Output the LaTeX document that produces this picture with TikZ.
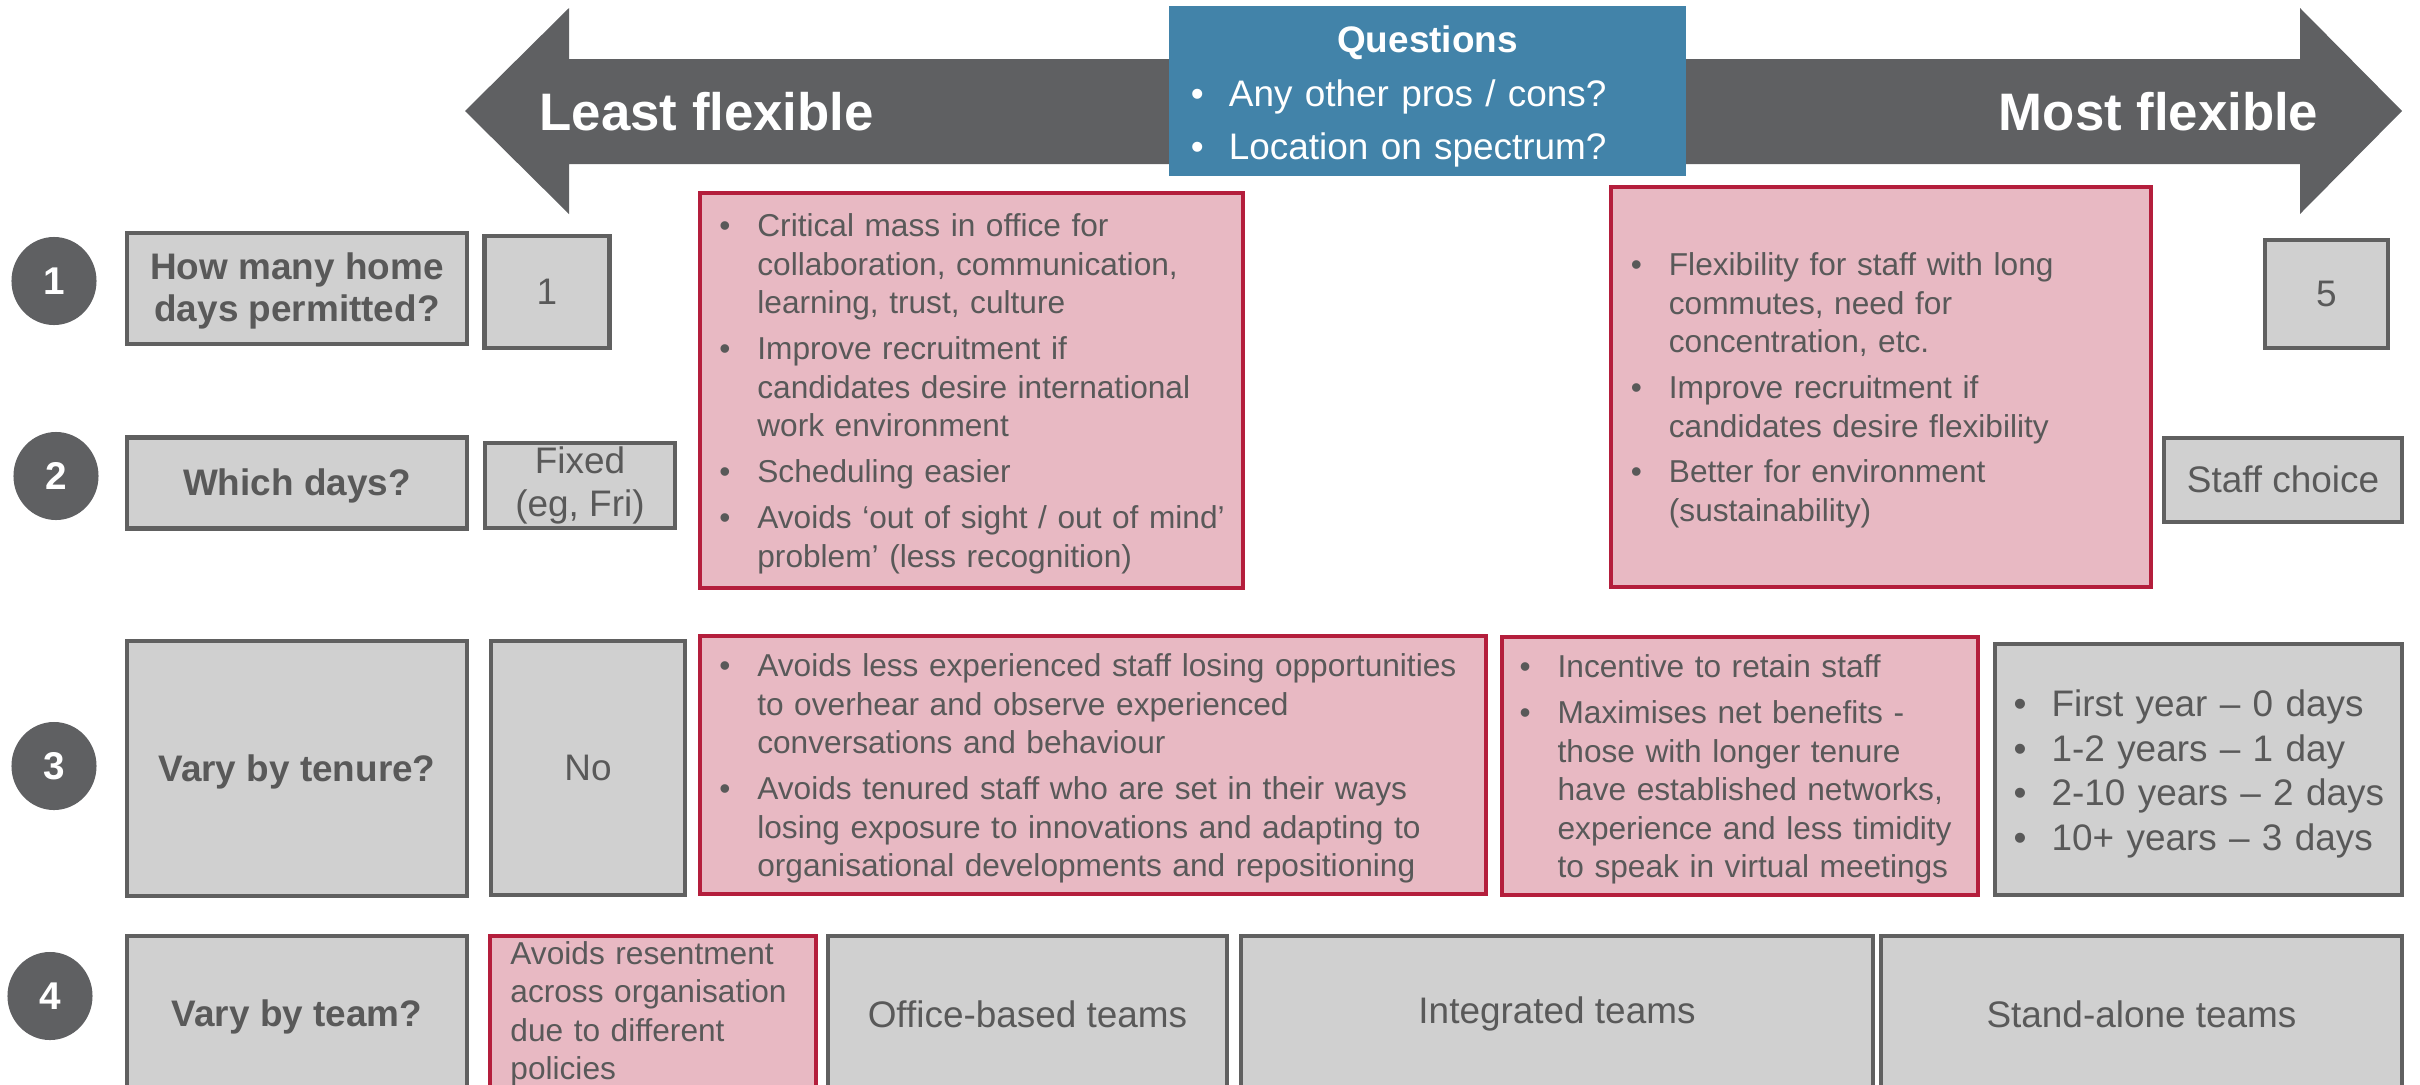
\documentclass[tikz,border=0pt]{standalone}
\usepackage{fontspec}
\setmainfont{Liberation Sans}
\usepackage{enumitem}
\usetikzlibrary{shapes.geometric}

\definecolor{arrowgray}{HTML}{5F6062}
\definecolor{boxgray}{HTML}{D0D0D0}
\definecolor{edgegray}{HTML}{606060}
\definecolor{textgray}{HTML}{595959}
\definecolor{pinkfill}{HTML}{E8B9C3}
\definecolor{pinkedge}{HTML}{B41E3C}
\definecolor{qblue}{HTML}{4283A9}

\setlist[itemize]{label=\textbullet, leftmargin=0.38cm, rightmargin=-0.6cm, labelindent=0pt, labelwidth=0.38cm,
  labelsep=0pt, align=left, topsep=0pt, partopsep=0pt, parsep=0pt, itemsep=2.1pt, after=\vspace{2.5pt}}

\tikzset{
  graybox/.style={draw=edgegray, fill=boxgray, line width=1.2pt, inner sep=0pt, text=textgray,
    font=\fontsize{10.5}{12.2}\selectfont, align=center},
  askbox/.style={graybox, font=\fontsize{10.5}{12.2}\selectfont\bfseries},
  oneline/.style={text height=9.5pt, text depth=2.2pt},
  pinkbox/.style={draw=pinkedge, fill=pinkfill, line width=1.1pt, inner sep=0pt, text=textgray,
    font=\fontsize{9}{10.95}\selectfont, align=left},
  numdot/.style={ellipse, fill=arrowgray, minimum width=0.85cm, minimum height=0.88cm, inner sep=0pt,
    text=white, font=\fontsize{11}{13}\selectfont\bfseries},
  bigword/.style={text=white, font=\fontsize{15}{18}\selectfont\bfseries, inner sep=0pt}
}

\begin{document}
\begin{tikzpicture}[x=0.01cm, y=-0.01cm]
        \useasboundingbox (0,0) rectangle (2420,1084);
        \clip (0,0) rectangle (2420,1084);

        % spectrum arrow
        \fill[arrowgray] (465,111) -- (569,8) -- (569,59) -- (2300,59) -- (2300,8) -- (2402,111)
            -- (2300,214) -- (2300,164) -- (569,164) -- (569,214) -- cycle;
        \node[bigword, anchor=west] (least) at (539,112) {Least flexible};
        \node[bigword, anchor=east] (most) at (2319,112) {Most flexible};
        \node[fill=qblue, minimum width=5.17cm, minimum height=1.70cm, inner sep=0pt, text width=4.73cm,
            text=white, font=\fontsize{10.5}{15}\selectfont] (questions) at (1427.5,91)
            {\centering\rule{0pt}{10.6pt}\textbf{Questions}\par\raggedright
             \begin{itemize}[itemsep=0pt, topsep=0.5pt, after={}]
             \item Any other pros / cons?
             \item Location on spectrum?
             \end{itemize}};

        % row numbers
        \node[numdot] (num1) at (54,281) {1};
        \node[numdot] (num2) at (56,476) {2};
        \node[numdot] (num3) at (54,766) {3};
        \node[numdot] (num4) at (50,996) {4};

        % questions
        \node[askbox, minimum width=3.40cm, minimum height=1.11cm] (howmany) at (297,288.5) {\rule{0pt}{9pt}How many home\\days permitted?};
        \node[askbox, oneline, minimum width=3.40cm, minimum height=0.91cm] (whichdays) at (297,483) {Which days?};
        \node[askbox, oneline, minimum width=3.40cm, minimum height=2.55cm] (tenure) at (297,768.5) {Vary by tenure?};
        \node[askbox, oneline, minimum width=3.40cm, minimum height=1.56cm] (team) at (297,1014) {Vary by team?};

        % least flexible end
        \node[graybox, minimum width=1.25cm, minimum height=1.12cm] (one) at (547,292) {1};
        \node[graybox, minimum width=1.90cm, minimum height=0.85cm] (fixed) at (580,485.5) {Fixed\\(eg, Fri)};
        \node[graybox, oneline, minimum width=1.94cm, minimum height=2.54cm] (no) at (588,768) {No};
        \node[pinkbox, minimum width=3.25cm, minimum height=1.56cm, text width=2.85cm] (resent) at (653,1014)
            {Avoids resentment\\across organisation\\due to different\\policies};

        % pros and cons
        \node[pinkbox, minimum width=5.42cm, minimum height=3.95cm, text width=5.04cm] (prosleft) at (971.5,390.5)
            {\begin{itemize}
             \item Critical mass in office for\\collaboration, communication,\\learning, trust, culture
             \item Improve recruitment if\\candidates desire international\\work environment
             \item Scheduling easier
             \item Avoids ‘out of sight / out of mind’\\problem’ (less recognition)
             \end{itemize}};
        \node[pinkbox, minimum width=5.40cm, minimum height=3.99cm, text width=5.00cm] (prosright) at (1881,387)
            {\begin{itemize}
             \item Flexibility for staff with long\\commutes, need for\\concentration, etc.
             \item Improve recruitment if\\candidates desire flexibility
             \item Better for environment\\(sustainability)
             \end{itemize}};
        \node[pinkbox, minimum width=7.85cm, minimum height=2.58cm, text width=7.47cm] (tenureno) at (1093,765)
            {\begin{itemize}
             \item Avoids less experienced staff losing opportunities\\to overhear and observe experienced\\conversations and behaviour
             \item Avoids tenured staff who are set in their ways\\losing exposure to innovations and adapting to\\organisational developments and repositioning
             \end{itemize}};
        \node[pinkbox, minimum width=4.76cm, minimum height=2.58cm, text width=4.40cm] (tenureyes) at (1739.7,766)
            {\begin{itemize}
             \item Incentive to retain staff
             \item Maximises net benefits -\\those with longer tenure\\have established networks,\\experience and less timidity\\to speak in virtual meetings
             \end{itemize}};

        % most flexible end
        \node[graybox, minimum width=1.23cm, minimum height=1.08cm] (five) at (2326.4,294) {5};
        \node[graybox, oneline, minimum width=2.375cm, minimum height=0.845cm] (staffchoice) at (2283,480) {Staff choice};
        \node[graybox, minimum width=4.065cm, minimum height=2.51cm, text width=3.70cm, align=left,
            font=\fontsize{10.5}{12.65}\selectfont] (yearsteps) at (2198.7,769.3)
            {\begin{itemize}[itemsep=0pt]
             \item First year – 0 days
             \item 1-2 years – 1 day
             \item 2-10 years – 2 days
             \item 10+ years – 3 days
             \end{itemize}};

        % team types
        \node[graybox, minimum width=3.99cm, minimum height=1.56cm] (officebased) at (1027.5,1014) {Office-based teams};
        \node[graybox, minimum width=6.32cm, minimum height=1.56cm] (integrated) at (1557,1014) {Integrated teams};
        \node[graybox, minimum width=5.21cm, minimum height=1.56cm] (standalone) at (2141.5,1014) {Stand-alone teams};
    \end{tikzpicture}
\end{document}
